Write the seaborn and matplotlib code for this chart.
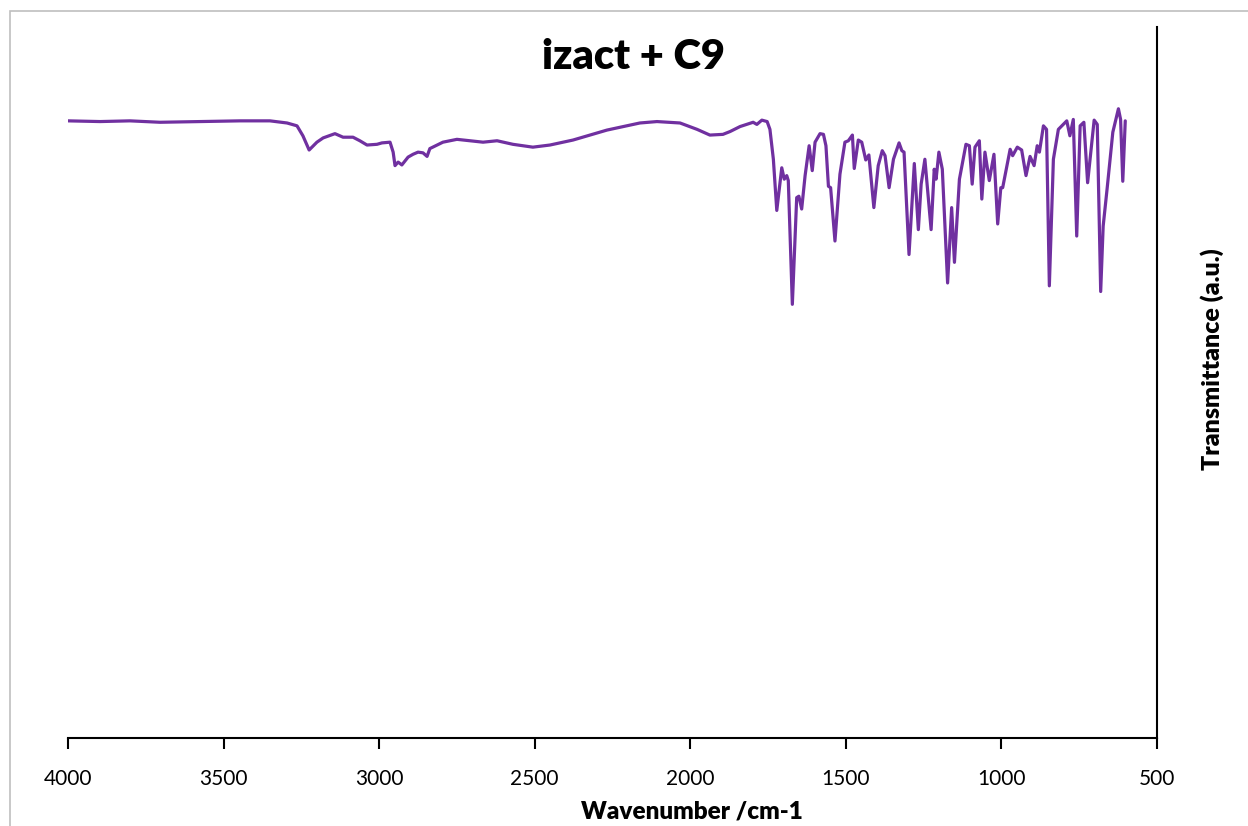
import matplotlib
matplotlib.use("Agg")
import matplotlib.pyplot as plt
from matplotlib.patches import Rectangle
import seaborn as sns
import pandas as pd

# ---- data (wavenumber in cm-1, transmittance in a.u.) ----
wavenumber = [
    4000, 3897, 3801, 3704, 3576, 3447, 3351, 3296, 3264, 3245, 3225, 3200, 3180,
    3142, 3116, 3084, 3062, 3039, 3007, 2991, 2965, 2955, 2949, 2939, 2927, 2907,
    2891, 2875, 2859, 2846, 2837, 2795, 2750, 2708, 2666, 2621, 2570, 2506, 2451,
    2377, 2268, 2162, 2107, 2033, 1978, 1937, 1895, 1872, 1840, 1798, 1786, 1770,
    1753, 1744, 1733, 1722, 1706, 1698, 1690, 1685, 1672, 1658, 1651, 1642, 1631,
    1618, 1608, 1599, 1583, 1572, 1564, 1556, 1549, 1535, 1519, 1503, 1492, 1479,
    1473, 1460, 1449, 1436, 1426, 1410, 1396, 1383, 1374, 1361, 1347, 1329, 1320,
    1313, 1297, 1280, 1267, 1258, 1246, 1226, 1216, 1210, 1201, 1190, 1181, 1173,
    1160, 1151, 1135, 1114, 1103, 1094, 1085, 1071, 1063, 1053, 1039, 1024, 1012,
    1002, 996, 972, 964, 949, 935, 921, 908, 895, 885, 878, 865, 855, 846, 833,
    817, 790, 780, 769, 758, 747, 735, 723, 702, 692, 681, 673, 660, 642, 624,
    617, 610, 602,
]
transmittance = [
    86.8, 86.7, 86.8, 86.6, 86.7, 86.8, 86.8, 86.5, 86.1, 84.7, 82.7, 83.8, 84.4,
    85.0, 84.5, 84.5, 84.0, 83.4, 83.5, 83.7, 83.8, 82.4, 80.5, 81.0, 80.6, 81.7,
    82.1, 82.4, 82.3, 81.8, 82.9, 83.8, 84.2, 84.0, 83.8, 84.0, 83.5, 83.1, 83.4,
    84.1, 85.5, 86.5, 86.7, 86.5, 85.6, 84.8, 84.9, 85.3, 86.0, 86.6, 86.3, 86.9,
    86.7, 85.6, 81.4, 74.2, 80.2, 78.6, 79.1, 78.4, 61.0, 76.0, 76.2, 74.4, 79.1,
    83.3, 79.8, 83.8, 85.0, 84.9, 83.3, 77.6, 77.4, 69.9, 79.3, 83.8, 84.0, 84.8,
    80.1, 84.1, 83.8, 81.3, 82.0, 74.6, 80.5, 82.6, 81.9, 77.4, 81.4, 83.7, 82.6,
    82.4, 68.0, 80.8, 71.5, 77.9, 81.4, 71.5, 80.0, 78.6, 82.4, 80.0, 71.5, 64.0,
    74.6, 66.9, 78.6, 83.5, 83.3, 77.9, 83.1, 84.0, 75.8, 82.4, 78.4, 82.1, 72.3,
    77.4, 77.4, 82.8, 81.9, 83.1, 82.7, 79.1, 81.8, 80.5, 83.3, 82.4, 86.1, 85.6,
    63.6, 81.4, 85.6, 86.8, 84.7, 87.0, 70.6, 86.1, 86.6, 78.1, 86.9, 86.3, 62.8,
    72.0, 77.4, 85.2, 88.5, 87.0, 78.3, 86.8,
]
x_ticks = [4000, 3500, 3000, 2500, 2000, 1500, 1000, 500]
title_text = "izact + C9"
x_label = "Wavenumber /cm-1"
y_label = "Transmittance (a.u.)"

df = pd.DataFrame({"wavenumber": wavenumber, "transmittance": transmittance})

sns.set_style("white")
plt.rcParams["font.family"] = ["Lato", "DejaVu Sans"]
plt.rcParams["text.color"] = "black"
plt.rcParams["xtick.color"] = "black"

fig = plt.figure(figsize=(12.48, 8.26), dpi=100)
ax = fig.add_axes([68 / 1248, 88 / 826, (1157 - 68) / 1248, (738 - 27) / 826])

sns.lineplot(data=df, x="wavenumber", y="transmittance", ax=ax, sort=False,
             color="#7030A0", linewidth=2.3, estimator=None)
for ln in ax.get_lines():
    ln.set_solid_joinstyle("round")

ax.set_xlim(4000, 500)
ax.set_ylim(0, 100)
ax.set_xticks(x_ticks)
ax.set_xticklabels([str(t) for t in x_ticks], fontsize=15, color="black")
ax.set_yticks([])
ax.set_xlabel("")
ax.set_ylabel("")

for side in ["left", "top"]:
    ax.spines[side].set_visible(False)
for side in ["right", "bottom"]:
    ax.spines[side].set_visible(True)
    ax.spines[side].set_color("black")
    ax.spines[side].set_linewidth(1.5)
ax.tick_params(axis="x", direction="out", length=8, width=1.5, bottom=True,
               pad=14, colors="black")

fig.text(634 / 1248, 1 - 57 / 826, title_text, ha="center", va="center",
         fontsize=30, fontweight="heavy", color="black")
fig.text(692 / 1248, 1 - 812 / 826, x_label, ha="center", va="center",
         fontsize=17.5, fontweight="heavy", color="black")
fig.text(1212 / 1248, 1 - 359 / 826, y_label, ha="center", va="center",
         fontsize=18, fontweight="heavy", rotation=90, color="black")

# outer chart-area border
fig.patches.append(Rectangle((10 / 1248, -0.01), 1.0, 1 - 11 / 826 + 0.01,
                             transform=fig.transFigure, fill=False,
                             edgecolor="#BFBFBF", linewidth=1.2))

fig.savefig("out.png", dpi=100)
